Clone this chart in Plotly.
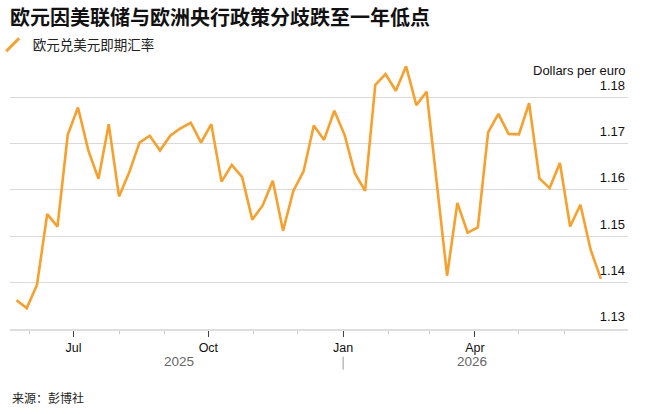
import pandas as pd
import plotly.graph_objects as go

# ---- data ----
dates = pd.date_range("2025-05-23", periods=58, freq="7D")
eurusd = [
    1.1362, 1.1345, 1.1395, 1.1548, 1.1521, 1.1719, 1.1778, 1.1686, 1.1624, 1.1742,
    1.1586, 1.1638, 1.1702, 1.1717, 1.1685, 1.1717, 1.1733, 1.1745, 1.1702, 1.1742,
    1.1618, 1.1654, 1.1628, 1.1536, 1.1566, 1.1620, 1.1512, 1.1598, 1.1640, 1.1739,
    1.1708, 1.1771, 1.1719, 1.1636, 1.1598, 1.1827, 1.1850, 1.1814, 1.1867, 1.1783,
    1.1812, 1.1610, 1.1415, 1.1572, 1.1508, 1.1519, 1.1724, 1.1764, 1.1721, 1.1720,
    1.1787, 1.1625, 1.1604, 1.1658, 1.1521, 1.1568, 1.1471, 1.1408,
]
major_ticks = ["2025-07-01", "2025-10-01", "2026-01-01", "2026-04-01"]
major_labels = ["Jul", "Oct", "Jan", "Apr"]
minor_ticks = ["2025-06-01", "2025-08-01", "2025-09-01", "2025-11-01", "2025-12-01",
               "2026-02-01", "2026-03-01", "2026-05-01", "2026-06-01"]
y_ticks = [1.13, 1.14, 1.15, 1.16, 1.17, 1.18]
year_labels = ["2025", "2026"]
year_pos = ["2025-09-11", "2026-03-30"]

ORANGE = "#f7a02c"
W, H = 660, 414
L, R, T, B = 10, 32.3, 60, 84.7
ph = H - T - B


def py(pix):
    return (H - B - pix) / ph


fig = go.Figure()
fig.add_trace(go.Scatter(
    x=dates, y=eurusd, mode="lines", showlegend=False,
    line=dict(color=ORANGE, width=2.6), hoverinfo="x+y",
))
fig.add_trace(go.Scatter(
    x=[None], y=[None], mode="markers", name="欧元兑美元即期汇率",
    marker=dict(symbol="line-ne", size=13, line=dict(color=ORANGE, width=3)),
))

fig.update_layout(
    width=W, height=H,
    margin=dict(l=L, r=R, t=T, b=B, autoexpand=False),
    paper_bgcolor="white", plot_bgcolor="white",
    font=dict(family="Liberation Sans, Arial, Noto Sans CJK SC", color="#111"),
    title=dict(
        text="<b>欧元因美联储与欧洲央行政策分歧跌至一年低点</b>",
        x=10 / W, xanchor="left", xref="container",
        y=1 - 18 / H, yanchor="middle", yref="container",
        font=dict(family="Noto Sans CJK SC", size=20, color="#111"),
    ),
    legend=dict(
        x=-0.028, xanchor="left", y=py(45), yanchor="middle",
        font=dict(family="Noto Sans CJK SC", size=13.5, color="#222"),
        itemwidth=30, bgcolor="rgba(0,0,0,0)", borderwidth=0,
    ),
    xaxis=dict(
        type="date",
        range=["2025-05-18 14:00", "2026-07-14 12:00"],
        tickmode="array", tickvals=major_ticks, ticktext=major_labels,
        ticks="outside", ticklen=6, tickwidth=1, tickcolor="#444",
        tickfont=dict(size=12.5, color="#111"),
        minor=dict(tickmode="array", tickvals=minor_ticks, ticks="outside",
                   ticklen=3, tickwidth=1, tickcolor="#c8c8c8", showgrid=False),
        showgrid=False, zeroline=False,
        showline=True, linecolor="#dedede", linewidth=2,
        fixedrange=True,
    ),
    yaxis=dict(
        side="right", range=[1.13, 1.13 + ph / 4640.0],
        tickmode="array", tickvals=y_ticks, tickformat=".2f",
        ticklabelposition="inside top", ticks="", ticklabelshift=-3,
        tickfont=dict(size=13, color="#111"),
        showgrid=True, gridcolor="#d9d9d9", gridwidth=1.2,
        zeroline=False, showline=False, fixedrange=True,
    ),
)

ann = [
    dict(text="Dollars per euro", xref="paper", x=1, xanchor="right",
         yref="paper", y=py(71), yanchor="middle", showarrow=False,
         font=dict(size=13, color="#111")),
    dict(text="来源：彭博社", xref="paper", x=0, xanchor="left",
         yref="paper", y=py(398), yanchor="middle", showarrow=False,
         font=dict(family="Noto Sans CJK SC", size=12, color="#222")),
]
for lab, pos in zip(year_labels, year_pos):
    ann.append(dict(text=lab, xref="x", x=pos, xanchor="center",
                    yref="paper", y=py(362), yanchor="middle", showarrow=False,
                    font=dict(size=13.5, color="#666")))
fig.update_layout(annotations=ann)
fig.add_shape(type="line", xref="x", x0="2026-01-01", x1="2026-01-01",
              yref="paper", y0=py(357), y1=py(370),
              line=dict(color="#999", width=1))

fig.write_html("out.html")
